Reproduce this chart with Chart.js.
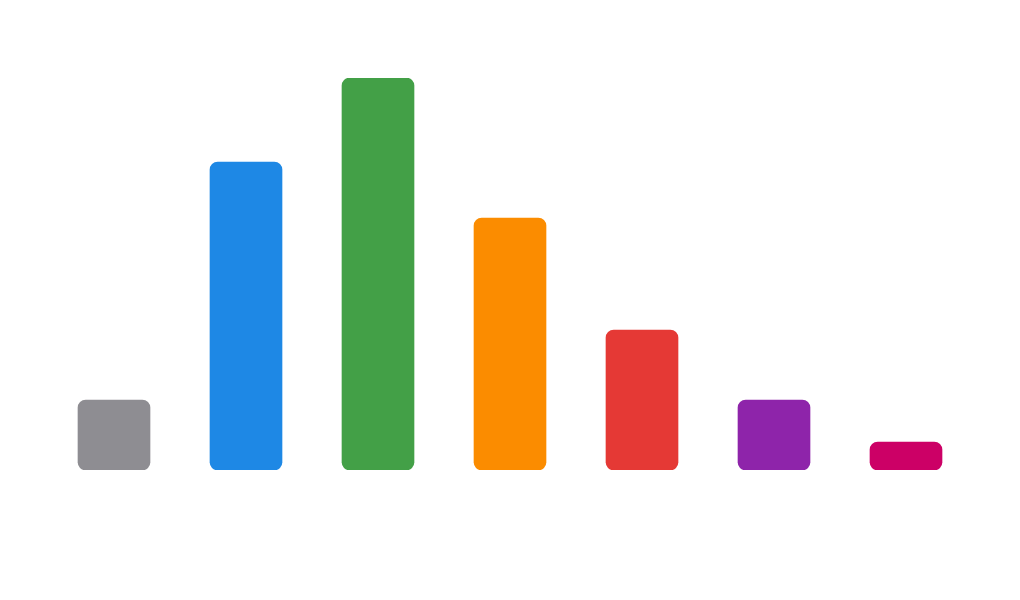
<!DOCTYPE html>
<html>
<head>
<meta charset="utf-8">
<script src="https://cdn.jsdelivr.net/npm/chart.js@4"></script>
<style>
  html, body { margin: 0; padding: 0; background: #ffffff; }
  #wrap { width: 1020px; height: 600px; position: relative; }
</style>
</head>
<body>
<div id="wrap"><canvas id="barChart"></canvas></div>
<script>
const categories = ['A', 'B', 'C', 'D', 'E', 'F', 'G'];
const values = [5, 22, 28, 18, 10, 5, 2];
const barColors = ['#8e8d92', '#1e88e5', '#43a047', '#fb8c00', '#e53935', '#8e24aa', '#cc0066'];

const ctx = document.getElementById('barChart').getContext('2d');
new Chart(ctx, {
  type: 'bar',
  data: {
    labels: categories,
    datasets: [
      {
        data: values,
        backgroundColor: barColors,
        borderWidth: 0,
        borderRadius: 8,
        borderSkipped: false,
        barThickness: 72
      }
    ]
  },
  options: {
    responsive: true,
    maintainAspectRatio: false,
    animation: false,
    layout: { padding: { left: 48, right: 48, top: 78, bottom: 130 } },
    scales: {
      x: { display: false },
      y: { display: false, min: 0, max: 28 }
    },
    plugins: {
      legend: { display: false },
      tooltip: { enabled: false }
    }
  }
});
</script>
</body>
</html>
